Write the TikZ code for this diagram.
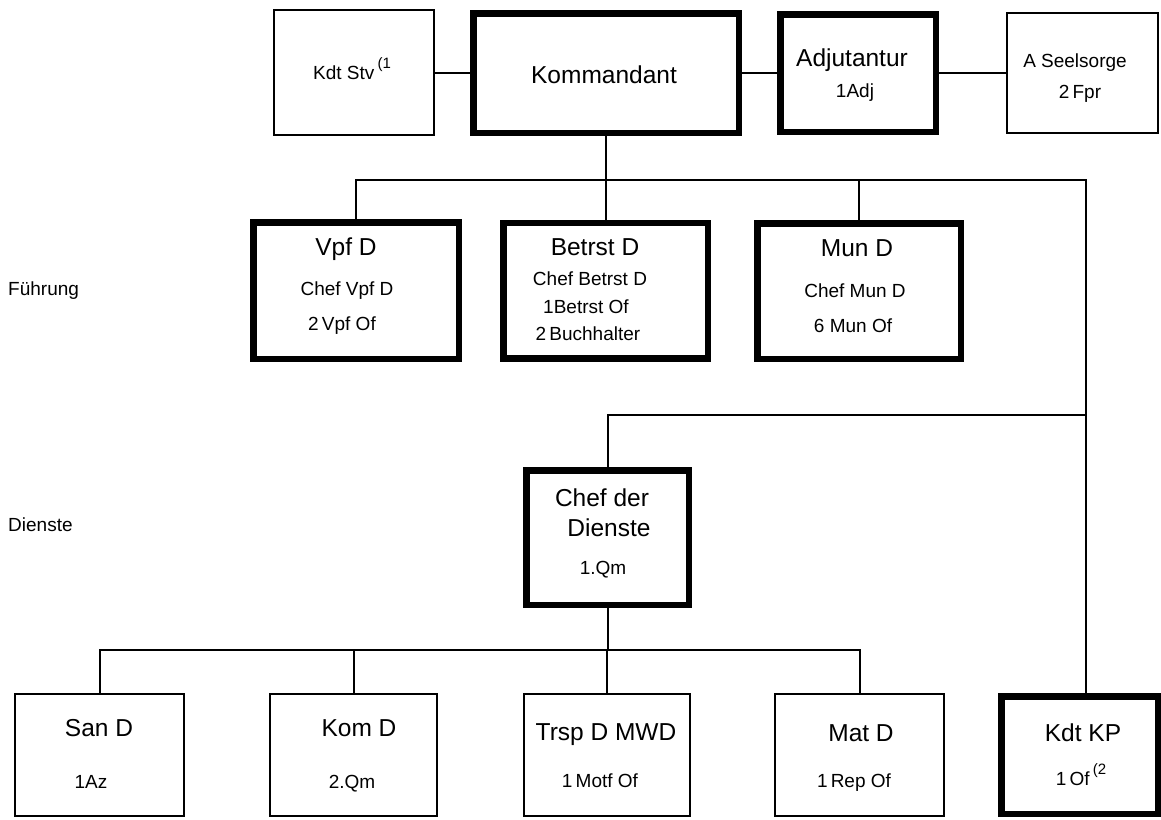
\documentclass[tikz,border=0pt]{standalone}
\usepackage{fontspec}
\setmainfont{Liberation Sans}
\newcommand{\fnref}[1]{\,\raisebox{0.55em}{\fontsize{15}{17}\selectfont(#1}}
\begin{document}
\begin{tikzpicture}[x=1pt,y=-1pt]
\tikzstyle{every node}+=[inner sep=0pt]
\tikzstyle{unit}=[draw,line width=2pt]
\tikzstyle{lead}=[draw,line width=6.5pt]
\tikzstyle{head}=[anchor=base,font=\fontsize{24.5}{28}\selectfont]
\tikzstyle{sub}=[anchor=base,font=\fontsize{19}{22}\selectfont]
\tikzstyle{link}=[line width=2pt]
\useasboundingbox (0,0) rectangle (1161,819);
% top row
\node[unit,minimum width=160pt,minimum height=125pt] (stv) at (354,72.5) {};
\node[sub] (stv-t) at (352,79) {Kdt Stv\fnref{1}};
\node[lead,minimum width=265.5pt,minimum height=119.5pt] (kdo) at (606,73) {};
\node[head] (kdo-t) at (604,83.5) {Kommandant};
\node[lead,minimum width=155.5pt,minimum height=117.5pt] (adj) at (858,73) {};
\node[head] (adj-t) at (852,66.5) {Adjutantur};
\node[sub] (adj-s) at (855,97) {1Adj};
\node[unit,minimum width=151pt,minimum height=120pt] (seel) at (1082.5,73) {};
\node[sub] (seel-t) at (1075,67) {A Seelsorge};
\node[sub] (seel-s) at (1080,98) {2\,Fpr};
% Fuehrung
\node[sub,anchor=base west] (fuehr) at (8,295) {Führung};
\node[lead,minimum width=205.5pt,minimum height=136.5pt] (vpf) at (356,290.5) {};
\node[head] (vpf-t) at (346,255.5) {Vpf D};
\node[sub] (vpf-s1) at (347,295) {Chef Vpf D};
\node[sub] (vpf-s2) at (342,330) {2\,Vpf Of};
\node[lead,minimum width=204.5pt,minimum height=135.5pt] (betr) at (605.5,290.5) {};
\node[head] (betr-t) at (595,255.5) {Betrst D};
\node[sub] (betr-s1) at (590,285) {Chef Betrst D};
\node[sub] (betr-s2) at (586,313) {1Betrst Of};
\node[sub] (betr-s3) at (588,340) {2\,Buchhalter};
\node[lead,minimum width=203.5pt,minimum height=135.5pt] (mun) at (859,291) {};
\node[head] (mun-t) at (857,256.5) {Mun D};
\node[sub] (mun-s1) at (855,297) {Chef Mun D};
\node[sub] (mun-s2) at (853,332) {6 Mun Of};
% Dienste
\node[sub,anchor=base west] (dienst) at (8,531) {Dienste};
\node[lead,minimum width=162.5pt,minimum height=134.5pt] (cdd) at (607.5,537.5) {};
\node[head] (cdd-t1) at (602,506.5) {Chef der};
\node[head] (cdd-t2) at (609,536.5) {Dienste};
\node[sub] (cdd-s) at (603,574) {1.Qm};
% bottom row
\node[unit,minimum width=169pt,minimum height=122pt] (san) at (99.5,755) {};
\node[head] (san-t) at (99,736.5) {San D};
\node[sub] (san-s) at (91,788) {1Az};
\node[unit,minimum width=167pt,minimum height=122pt] (kom) at (353.5,755) {};
\node[head] (kom-t) at (359,736.5) {Kom D};
\node[sub] (kom-s) at (352,788) {2.Qm};
\node[unit,minimum width=166pt,minimum height=122pt] (trsp) at (607,755) {};
\node[head] (trsp-t) at (606,740.5) {Trsp D MWD};
\node[sub] (trsp-s) at (600,787) {1\,Motf Of};
\node[unit,minimum width=169pt,minimum height=122pt] (mat) at (859.5,755) {};
\node[head] (mat-t) at (861,741.5) {Mat D};
\node[sub] (mat-s) at (854,787) {1\,Rep Of};
\node[lead,minimum width=156.5pt,minimum height=117.5pt] (kdp) at (1079.5,755) {};
\node[head] (kdp-t) at (1083,741.5) {Kdt KP};
\node[sub] (kdp-s) at (1081,785) {1\,Of\fnref{2}};
% connectors
\coordinate (fr) at (1086,180);
\coordinate (dr) at (1086,415);
\coordinate (db) at (0,650);
\draw[link] (stv.east) -- (stv.east -| kdo.west);
\draw[link] (kdo.east) -- (adj.west);
\draw[link] (adj.east) -- (adj.east -| seel.west);
\draw[link] (kdo.south) -- (kdo.south |- fr);
\draw[link] (vpf.north) |- (fr) -- (fr |- kdp.north);
\draw[link] (betr.north) -- (betr.north |- fr);
\draw[link] (mun.north) -- (mun.north |- fr);
\draw[link] (cdd.north) |- (dr);
\draw[link] (cdd.south) -- (cdd.south |- db);
\draw[link] (san.north) |- (mat.north |- db) -- (mat.north);
\draw[link] (kom.north) -- (kom.north |- db);
\draw[link] (trsp.north) -- (trsp.north |- db);
\end{tikzpicture}
\end{document}
